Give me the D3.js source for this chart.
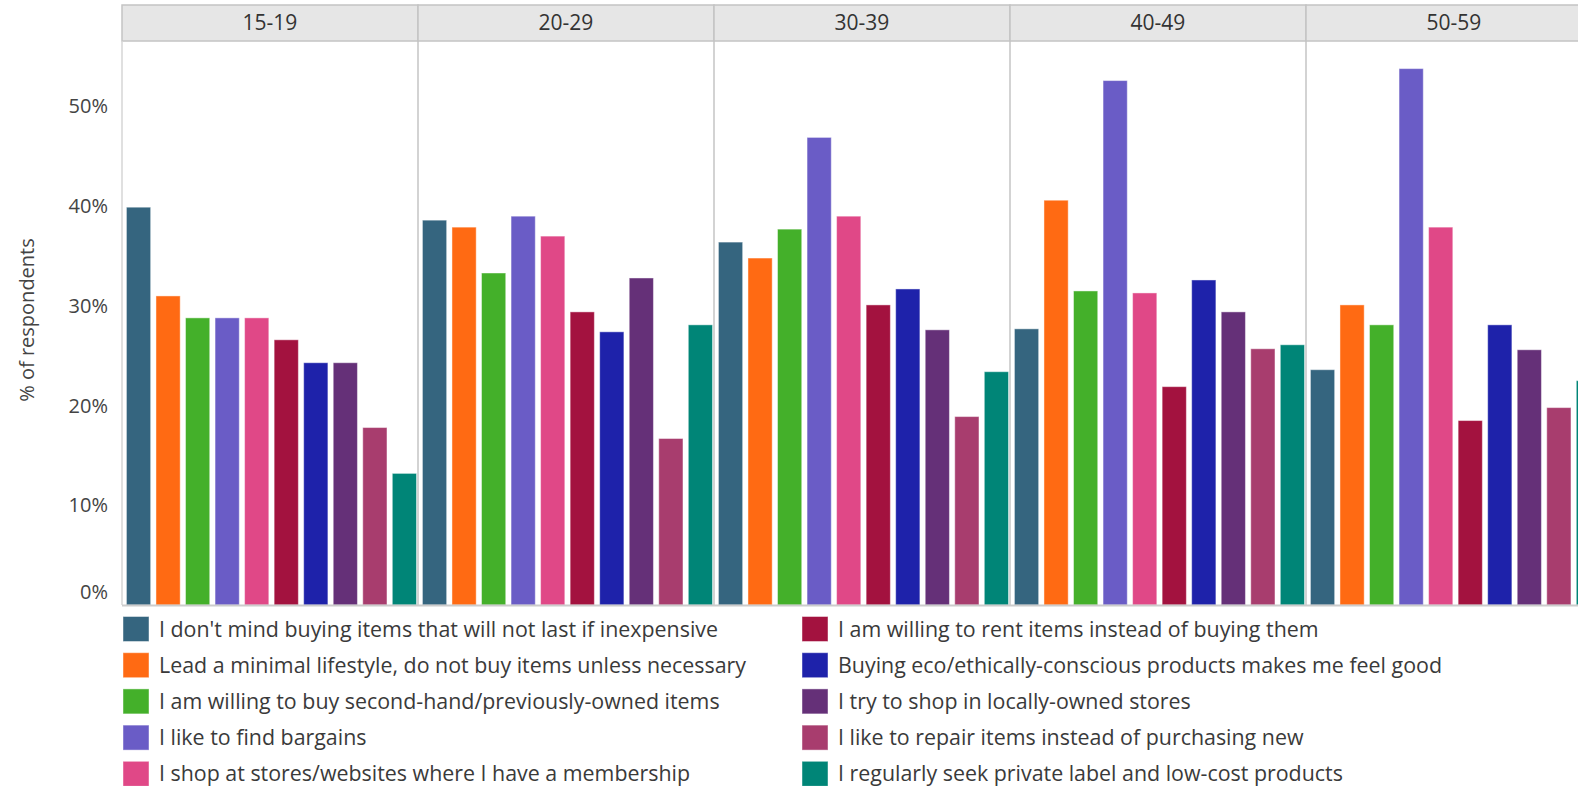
<!DOCTYPE html>
<html>
<head>
<meta charset="utf-8">
<script src="https://cdn.jsdelivr.net/npm/d3@7"></script>
<style>
  html, body { margin: 0; padding: 0; background: #ffffff; overflow: hidden; }
  svg { display: block; font-family: "Open Sans", "Noto Sans", sans-serif; }
</style>
</head>
<body>
<svg id="chart" width="1578" height="786"></svg>
<script>
// ---------------- DATA ----------------
const ageGroups = ["15-19", "20-29", "30-39", "40-49", "50-59"];

const statements = [
  "I don't mind buying items that will not last if inexpensive",
  "Lead a minimal lifestyle, do not buy items unless necessary",
  "I am willing to buy second-hand/previously-owned items",
  "I like to find bargains",
  "I shop at stores/websites where I have a membership",
  "I am willing to rent items instead of buying them",
  "Buying eco/ethically-conscious products makes me feel good",
  "I try to shop in locally-owned stores",
  "I like to repair items instead of purchasing new",
  "I regularly seek private label and low-cost products"
];

const seriesColors = [
  "#35657f", "#ff6a13", "#44b02a", "#6a5cc6", "#e04887",
  "#a3123f", "#1e22aa", "#653078", "#a83d6e", "#008577"
];

// % of respondents, one array per age group, in the order of `statements`
const values15_19 = [39.9, 31.0, 28.8, 28.8, 28.8, 26.6, 24.3, 24.3, 17.8, 13.2];
const values20_29 = [38.6, 37.9, 33.3, 39.0, 37.0, 29.4, 27.4, 32.8, 16.7, 28.1];
const values30_39 = [36.4, 34.8, 37.7, 46.9, 39.0, 30.1, 31.7, 27.6, 18.9, 23.4];
const values40_49 = [27.7, 40.6, 31.5, 52.6, 31.3, 21.9, 32.6, 29.4, 25.7, 26.1];
const values50_59 = [23.6, 30.1, 28.1, 53.8, 37.9, 18.5, 28.1, 25.6, 19.8, 22.5];

const yTicks = [0, 10, 20, 30, 40, 50];
const yTickLabels = ["0%", "10%", "20%", "30%", "40%", "50%"];
const yAxisTitle = "% of respondents";

const groupValues = [values15_19, values20_29, values30_39, values40_49, values50_59];

// ---------------- LAYOUT ----------------
const svg = d3.select("#chart");
const plotLeft = 122, panelW = 296;
const headerTop = 5, headerBottom = 41;
const baseY = 605, topVal = 106.5;

const xPanel = d3.scaleBand()
  .domain(ageGroups)
  .range([plotLeft, plotLeft + panelW * ageGroups.length])
  .padding(0);

const xBar = d3.scaleBand()
  .domain(d3.range(statements.length))
  .range([0, panelW])
  .paddingInner(0.18)
  .paddingOuter(0.1)
  .align(0.75);

const y = d3.scaleLinear().domain([0, 50]).range([baseY, topVal]);

// header band
const headers = svg.append("g");
headers.selectAll("rect")
  .data(ageGroups)
  .join("rect")
  .attr("x", d => xPanel(d))
  .attr("y", headerTop)
  .attr("width", xPanel.bandwidth())
  .attr("height", headerBottom - headerTop)
  .attr("fill", "#e6e6e6")
  .attr("stroke", "#c4c4c4")
  .attr("stroke-width", 1.5);

headers.selectAll("text")
  .data(ageGroups)
  .join("text")
  .attr("x", d => xPanel(d) + xPanel.bandwidth() / 2)
  .attr("y", (headerTop + headerBottom) / 2)
  .attr("dy", "0.35em")
  .attr("text-anchor", "middle")
  .attr("font-size", 21)
  .attr("fill", "#333")
  .text(d => d);

// panel separators
svg.append("g").selectAll("line")
  .data(ageGroups)
  .join("line")
  .attr("x1", d => xPanel(d)).attr("x2", d => xPanel(d))
  .attr("y1", headerBottom).attr("y2", baseY)
  .attr("stroke", d => d === ageGroups[0] ? "#d6d6d6" : "#c4c4c4")
  .attr("stroke-width", 1.5);

// bars
const panels = svg.append("g").selectAll("g")
  .data(ageGroups)
  .join("g")
  .attr("transform", d => `translate(${xPanel(d)},0)`);

panels.each(function(g, gi) {
  d3.select(this).selectAll("rect")
    .data(groupValues[gi])
    .join("rect")
    .attr("x", (v, i) => xBar(i))
    .attr("y", v => y(v))
    .attr("width", xBar.bandwidth())
    .attr("height", v => y(0) - y(v))
    .attr("fill", (v, i) => seriesColors[i])
    .attr("stroke", "rgba(255,255,255,0.45)")
    .attr("stroke-width", 1);
});

// baseline
svg.append("line")
  .attr("x1", plotLeft).attr("x2", plotLeft + panelW * ageGroups.length)
  .attr("y1", baseY + 0.5).attr("y2", baseY + 0.5)
  .attr("stroke", "#cccccc")
  .attr("stroke-width", 2);

// y axis
const yAxis = d3.axisLeft(y)
  .tickValues(yTicks)
  .tickFormat((d, i) => yTickLabels[i])
  .tickSize(0)
  .tickPadding(14);

const yg = svg.append("g")
  .attr("transform", `translate(${plotLeft},0)`)
  .call(yAxis);
yg.select(".domain").remove();
yg.selectAll("text")
  .attr("font-size", 20)
  .attr("font-family", "\"Open Sans\", sans-serif")
  .attr("fill", "#444")
  .attr("transform", d => d === 0 ? "translate(0,-13)" : null);

svg.append("text")
  .attr("transform", `translate(34,320) rotate(-90)`)
  .attr("text-anchor", "middle")
  .attr("font-size", 20)
  .attr("fill", "#444")
  .text(yAxisTitle);

// legend
const legendCols = [123, 802];
const legendRow0 = 629, legendStep = 36.2;
const legend = svg.append("g").selectAll("g")
  .data(statements)
  .join("g")
  .attr("transform", (d, i) => `translate(${legendCols[Math.floor(i / 5)]},${legendRow0 + (i % 5) * legendStep})`);

legend.append("rect")
  .attr("x", 0).attr("y", -12.5)
  .attr("width", 26).attr("height", 25)
  .attr("fill", (d, i) => seriesColors[i])
  .attr("stroke", "rgba(255,255,255,0.45)");

legend.append("text")
  .attr("x", 36)
  .attr("y", 0)
  .attr("dy", "0.35em")
  .attr("font-size", 21.4)
  .attr("fill", "#3a3a3a")
  .text(d => d);
</script>
</body>
</html>
